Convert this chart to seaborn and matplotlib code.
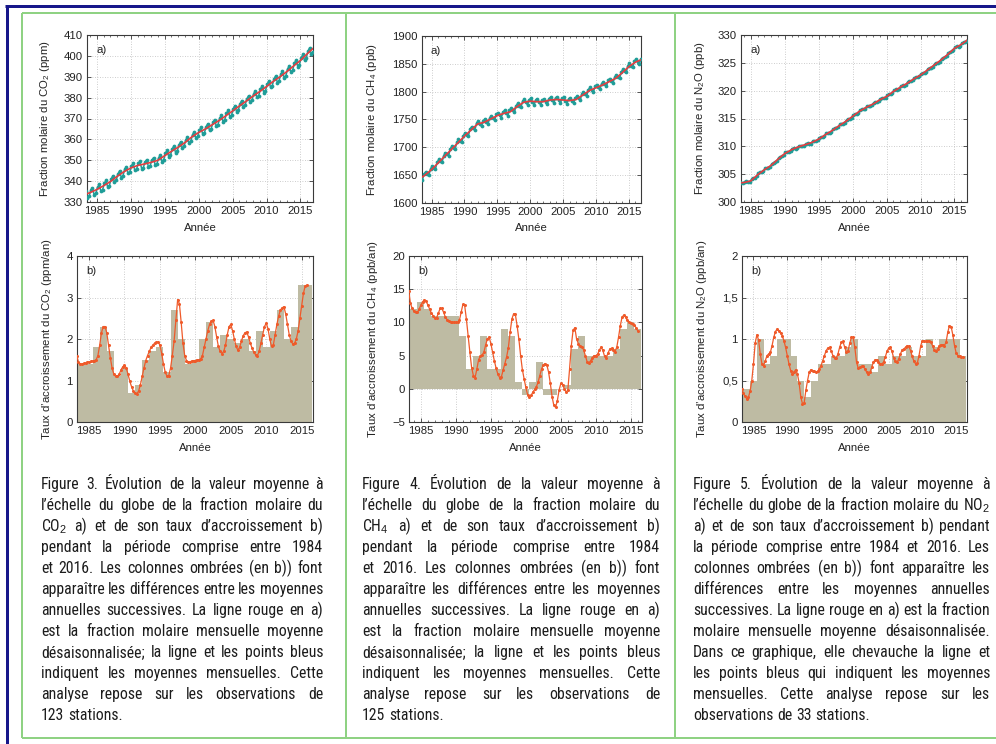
import numpy as np
import matplotlib
matplotlib.use("Agg")
import matplotlib.pyplot as plt
import seaborn as sns
from matplotlib.lines import Line2D
from matplotlib.ticker import MultipleLocator, FuncFormatter
from matplotlib import font_manager

# ------------------------------------------------------------------ data
trend_years = list(range(1983, 2018))
month_years = list(range(1983, 2017))
sample_frac = [0.1, 0.35, 0.6, 0.85]
bar_years = list(range(1984, 2017))
growth_start = 1983.25
growth_step = 0.25

co2_trend = [333.3, 334.5, 336.0, 337.8, 339.8, 342.3, 344.5, 346.3, 347.5, 348.2,
             349.0, 350.0, 352.2, 354.3, 356.3, 358.5, 361.2, 363.3, 365.0, 367.0,
             369.0, 371.3, 373.6, 376.0, 378.3, 380.7, 382.9, 385.3, 387.8, 390.0,
             392.5, 395.2, 397.8, 401.0, 404.0]
co2_monthly = [
    [334.3, 335.5, 332.1, 332.7], [335.55, 336.8, 333.5, 334.2], [337.1, 338.4, 335.2, 335.9],
    [338.9, 340.3, 337.1, 337.9], [340.95, 342.5, 339.4, 340.3], [343.4, 344.9, 341.7, 342.6],
    [345.6, 346.9, 343.7, 344.4], [347.3, 348.5, 345.1, 345.7], [348.5, 349.5, 346.0, 346.5],
    [349.2, 350.3, 346.8, 347.3], [350.0, 351.2, 347.7, 348.25], [351.1, 352.6, 349.4, 350.3],
    [353.3, 354.7, 351.6, 352.4], [355.4, 356.8, 353.6, 354.4], [357.4, 358.9, 355.7, 356.6],
    [359.7, 361.2, 358.2, 359.2], [362.3, 363.7, 360.6, 361.4], [364.4, 365.7, 362.4, 363.1],
    [366.1, 367.5, 364.3, 365.1], [368.1, 369.5, 366.3, 367.1], [370.1, 371.6, 368.5, 369.4],
    [372.4, 373.9, 370.8, 371.7], [374.7, 376.2, 373.1, 374.0], [377.1, 378.6, 375.5, 376.4],
    [379.4, 380.9, 377.8, 378.7], [381.8, 383.3, 380.1, 381.0], [384.0, 385.5, 382.4, 383.3],
    [386.45, 388.0, 384.9, 385.8], [388.9, 390.4, 387.2, 388.1], [391.15, 392.7, 389.6, 390.5],
    [393.7, 395.2, 392.2, 393.2], [396.4, 397.9, 394.9, 395.8], [399.0, 400.7, 397.8, 398.9],
    [402.2, 403.85, 400.9, 401.95]]
co2_growth_bars = [1.4, 1.4, 1.8, 2.3, 1.7, 1.1, 1.3, 0.7, 0.9, 1.5, 1.7, 1.8, 1.2, 2.7,
                   2.0, 1.4, 1.5, 2.0, 2.4, 1.8, 2.1, 2.0, 1.9, 2.0, 1.7, 2.2, 1.8, 2.2,
                   2.7, 2.0, 2.3, 3.3, 3.3]
co2_growth = [1.6, 1.45, 1.4,
              1.4, 1.41, 1.42, 1.44, 1.45, 1.46, 1.47, 1.48, 1.5, 1.6, 1.85, 2.15,
              2.3, 2.3, 2.15, 1.85, 1.55, 1.3, 1.15, 1.1, 1.1, 1.15, 1.25, 1.33,
              1.37, 1.3, 1.15, 0.98, 0.85, 0.75, 0.69, 0.68, 0.75, 0.9, 1.1, 1.3,
              1.48, 1.6, 1.7, 1.8, 1.85, 1.9, 1.92, 1.93, 1.85, 1.65, 1.4, 1.2,
              1.1, 1.12, 1.3, 1.6, 1.95, 2.45, 2.95, 2.85, 2.4, 1.9, 1.6, 1.48,
              1.45, 1.45, 1.47, 1.48, 1.48, 1.5, 1.5, 1.52, 1.6, 1.8, 2.0, 2.2,
              2.35, 2.43, 2.45, 2.3, 2.05, 1.82, 1.7, 1.65, 1.7, 1.85, 2.1, 2.3,
              2.35, 2.2, 2.0, 1.82, 1.73, 1.8, 1.95, 2.08, 2.15, 2.17, 2.05, 1.9,
              1.78, 1.68, 1.62, 1.6, 1.7, 1.9, 2.1, 2.3, 2.38, 2.25, 2.0, 1.82,
              1.85, 2.1, 2.35, 2.55, 2.7, 2.75, 2.78, 2.6, 2.35, 2.1, 1.95, 1.88,
              1.9, 2.0, 2.2, 2.5, 2.8, 3.1, 3.28, 3.3]

ch4_trend = [1642, 1650, 1660, 1672, 1684, 1696, 1708, 1720, 1731, 1742, 1745, 1751,
             1757, 1761, 1764, 1773, 1781, 1783, 1782, 1782, 1785, 1786, 1785, 1784,
             1786, 1794, 1802, 1807, 1812, 1818, 1824, 1834, 1845, 1853, 1858]
ch4_monthly = [
    [1647.8, 1643.8, 1640.8, 1651.8], [1656.0, 1652.5, 1650.0, 1661.5], [1666.2, 1663.2, 1661.2, 1673.2],
    [1678.2, 1675.2, 1673.2, 1685.2], [1690.2, 1687.2, 1685.2, 1697.2], [1702.2, 1699.2, 1697.2, 1709.2],
    [1714.2, 1711.2, 1709.2, 1721.2], [1726.1, 1722.9, 1720.6, 1732.4], [1737.1, 1733.9, 1731.6, 1743.4],
    [1747.3, 1742.1, 1737.8, 1747.6], [1750.6, 1746.1, 1742.6, 1753.1], [1756.6, 1752.1, 1748.6, 1759.1],
    [1762.4, 1757.4, 1753.4, 1763.4], [1766.3, 1761.1, 1756.8, 1766.6], [1769.9, 1766.2, 1763.4, 1774.7],
    [1778.8, 1774.8, 1771.8, 1782.8], [1786.2, 1780.7, 1776.2, 1785.7], [1787.9, 1781.7, 1776.4, 1785.2],
    [1787.0, 1781.0, 1776.0, 1785.0], [1787.3, 1782.1, 1777.8, 1787.6], [1790.1, 1784.4, 1779.6, 1788.9],
    [1790.9, 1784.7, 1779.4, 1788.2], [1789.9, 1783.7, 1778.4, 1787.2], [1789.2, 1783.7, 1779.2, 1788.7],
    [1791.8, 1787.8, 1784.8, 1795.8], [1799.8, 1795.8, 1792.8, 1803.8], [1807.5, 1802.8, 1799.0, 1809.3],
    [1812.5, 1807.8, 1804.0, 1814.3], [1817.6, 1813.1, 1809.6, 1820.1], [1823.6, 1819.1, 1815.6, 1826.1],
    [1830.0, 1826.5, 1824.0, 1835.5], [1840.1, 1836.9, 1834.6, 1846.4], [1850.8, 1846.8, 1843.8, 1854.8],
    [1858.5, 1853.8, 1850.0, 1859.3]]
ch4_growth_bars = [12, 13, 12, 11, 11, 11, 11, 8, 3, 5, 8, 3, 3, 9, 8, 1, -1, 1, 4, -1,
                   -1, 0, 0.5, 6, 8, 5, 5, 5, 5, 6, 9, 10, 9]
ch4_growth = [14.8, 12.9, 12.1,
              11.7, 11.6, 11.5, 12.0, 12.6, 13.1, 13.4, 13.2, 12.6, 12.0, 11.4, 11.0,
              10.7, 10.7, 11.4, 12.1, 12.1, 11.5, 10.8, 10.4, 10.2, 10.0, 10.0, 10.0,
              10.0, 10.0, 10.3, 11.5, 12.7, 12.6, 10.5, 8.0, 5.5, 3.2, 2.0, 1.7,
              3.0, 4.4, 4.9, 5.1, 5.5, 6.6, 7.5, 7.8, 6.8, 5.5, 4.2, 3.1,
              2.2, 1.7, 1.8, 2.8, 3.8, 4.8, 6.2, 8.5, 10.5, 11.3, 11.2, 9.5,
              7.5, 5.0, 2.9, 1.5, 0.2, -0.9, -1.2, -1.0, -0.5, -0.1, 0.3, 1.0,
              2.0, 3.0, 3.6, 3.8, 3.6, 2.5, 0.8, -1.2, -2.5, -2.8, -1.8, -0.2,
              0.8, 0.6, 0.0, -0.5, -0.2, 3.0, 6.5, 8.8, 9.2, 7.5, 6.8, 6.5,
              6.3, 5.9, 5.0, 4.1, 3.9, 4.2, 4.7, 5.0, 5.0, 5.2, 5.8, 6.3,
              5.8, 4.9, 4.7, 5.4, 6.0, 6.1, 5.8, 5.6, 6.3, 7.8, 9.5, 10.8,
              11.1, 10.8, 10.3, 10.0, 9.9, 9.8, 9.6, 9.2, 8.7]

n2o_trend = [303.4, 303.5, 303.8, 304.9, 305.8, 306.6, 307.7, 308.7, 309.4, 309.9,
             310.3, 310.7, 311.3, 312.1, 312.85, 313.7, 314.5, 315.4, 316.3, 317.0,
             317.6, 318.35, 318.95, 319.85, 320.6, 321.3, 322.1, 322.8, 323.7, 324.6,
             325.5, 326.5, 327.6, 328.3, 329.2]
n2o_monthly = [
    [303.56, 303.54, 303.36, 303.34], [303.68, 303.7, 303.58, 303.6], [304.06, 304.29, 304.36, 304.59],
    [305.14, 305.32, 305.34, 305.52], [306.03, 306.18, 306.18, 306.33], [306.86, 307.09, 307.16, 307.39],
    [307.95, 308.15, 308.2, 308.4], [308.92, 309.05, 309.02, 309.15], [309.6, 309.68, 309.6, 309.68],
    [310.09, 310.14, 310.04, 310.09], [310.49, 310.54, 310.44, 310.49], [310.91, 311.01, 310.96, 311.06],
    [311.53, 311.68, 311.68, 311.83], [312.33, 312.46, 312.45, 312.59], [313.09, 313.25, 313.26, 313.42],
    [313.93, 314.08, 314.08, 314.23], [314.74, 314.92, 314.94, 315.12], [315.64, 315.82, 315.84, 316.02],
    [316.52, 316.65, 316.62, 316.75], [317.21, 317.31, 317.26, 317.36], [317.83, 317.96, 317.95, 318.09],
    [318.56, 318.66, 318.61, 318.71], [319.19, 319.37, 319.39, 319.57], [320.08, 320.21, 320.2, 320.34],
    [320.82, 320.95, 320.92, 321.05], [321.53, 321.68, 321.68, 321.83], [322.32, 322.45, 322.42, 322.55],
    [323.04, 323.22, 323.24, 323.42], [323.94, 324.12, 324.14, 324.32], [324.84, 325.02, 325.04, 325.22],
    [325.75, 325.95, 326.0, 326.2], [326.76, 326.99, 327.06, 327.29], [327.82, 327.95, 327.92, 328.05],
    [328.54, 328.72, 328.74, 328.92]]
n2o_growth_bars = [0.4, 0.5, 1.0, 0.7, 0.8, 1.0, 1.0, 0.8, 0.5, 0.3, 0.5, 0.7, 0.7, 0.8,
                   0.8, 0.9, 1.0, 0.7, 0.7, 0.6, 0.8, 0.7, 0.8, 0.8, 0.9, 0.8, 0.8, 1.0,
                   0.9, 1.0, 1.0, 1.0, 0.8]
n2o_growth = [0.4, 0.35, 0.31,
              0.28, 0.3, 0.37, 0.5, 0.7, 0.95, 1.05, 0.99, 0.82, 0.7, 0.68, 0.74,
              0.8, 0.82, 0.84, 0.92, 1.02, 1.09, 1.12, 1.1, 1.07, 1.04, 0.98, 0.9,
              0.8, 0.7, 0.62, 0.58, 0.6, 0.63, 0.58, 0.47, 0.3, 0.22, 0.23, 0.38,
              0.5, 0.6, 0.63, 0.62, 0.61, 0.6, 0.61, 0.64, 0.68, 0.74, 0.8, 0.86,
              0.89, 0.9, 0.86, 0.8, 0.77, 0.77, 0.82, 0.9, 0.96, 0.97, 0.9, 0.84,
              0.86, 0.95, 1.02, 1.02, 0.9, 0.72, 0.65, 0.66, 0.67, 0.67, 0.64, 0.6,
              0.58, 0.6, 0.66, 0.72, 0.75, 0.75, 0.72, 0.7, 0.7, 0.72, 0.78, 0.85,
              0.89, 0.9, 0.85, 0.77, 0.73, 0.72, 0.76, 0.82, 0.87, 0.88, 0.9, 0.92,
              0.91, 0.86, 0.79, 0.73, 0.7, 0.71, 0.8, 0.92, 0.98, 0.98, 0.97, 0.98,
              0.98, 0.96, 0.92, 0.87, 0.85, 0.88, 0.92, 0.93, 0.93, 0.92, 0.96, 1.08,
              1.16, 1.15, 1.05, 0.92, 0.83, 0.8, 0.79, 0.78, 0.78]

year_ticks = [1985, 1990, 1995, 2000, 2005, 2010, 2015]

captions = [
    ["Figure 3. Évolution de la valeur moyenne à",
     "l’échelle du globe de la fraction molaire du",
     "CO$_2$ a) et de son taux d’accroissement b)",
     "pendant la période comprise entre 1984",
     "et 2016. Les colonnes ombrées (en b)) font",
     "apparaître les différences entre les moyennes",
     "annuelles successives. La ligne rouge en a)",
     "est la fraction molaire mensuelle moyenne",
     "désaisonnalisée; la ligne et les points bleus",
     "indiquent les moyennes mensuelles. Cette",
     "analyse repose sur les observations de",
     "123 stations."],
    ["Figure 4. Évolution de la valeur moyenne à",
     "l’échelle du globe de la fraction molaire du",
     "CH$_4$ a) et de son taux d’accroissement b)",
     "pendant la période comprise entre 1984",
     "et 2016. Les colonnes ombrées (en b)) font",
     "apparaître les différences entre les moyennes",
     "annuelles successives. La ligne rouge en a)",
     "est la fraction molaire mensuelle moyenne",
     "désaisonnalisée; la ligne et les points bleus",
     "indiquent les moyennes mensuelles. Cette",
     "analyse repose sur les observations de",
     "125 stations."],
    ["Figure 5. Évolution de la valeur moyenne à",
     "l’échelle du globe de la fraction molaire du NO$_2$",
     "a) et de son taux d’accroissement b) pendant",
     "la période comprise entre 1984 et 2016. Les",
     "colonnes ombrées (en b)) font apparaître les",
     "différences entre les moyennes annuelles",
     "successives. La ligne rouge en a) est la fraction",
     "molaire mensuelle moyenne désaisonnalisée.",
     "Dans ce graphique, elle chevauche la ligne et",
     "les points bleus qui indiquent les moyennes",
     "mensuelles. Cette analyse repose sur les",
     "observations de 33 stations."],
]

# ------------------------------------------------------------------ style
sns.set_theme(style="ticks")
plt.rcParams['font.family'] = ['Liberation Sans', 'DejaVu Sans']
plt.rcParams['mathtext.fontset'] = 'custom'
plt.rcParams['mathtext.rm'] = 'Liberation Sans'
plt.rcParams['mathtext.it'] = 'Liberation Sans:italic'
plt.rcParams['mathtext.bf'] = 'Liberation Sans:bold'

W, H = 996, 744
fig = plt.figure(figsize=(W / 100, H / 100), dpi=100)
fig.patch.set_facecolor('white')

TEAL = '#1f9d98'
RED = '#e63c3f'
ORANGE = '#ef5a2a'
BAR = '#bebba3'
GREEN = '#8fd283'
NAVY = '#17178a'
TXT = '#1c1c1c'


def add_ax(l, t, r, b):
    return fig.add_axes([l / W, 1 - b / H, (r - l) / W, (b - t) / H])


def style(ax, rect, xlim, ylim, yticks, ylabel, letter, label_x_px, xlabel_y_px, fmt=None):
    l, t, r, b = rect
    ax.set_xlim(*xlim)
    ax.set_ylim(*ylim)
    ax.set_xticks(year_ticks)
    ax.xaxis.set_minor_locator(MultipleLocator(1))
    ax.set_yticks(yticks)
    if fmt is not None:
        ax.yaxis.set_major_formatter(FuncFormatter(fmt))
    ax.set_facecolor('white')
    ax.grid(True, which='major', linestyle=(0, (1, 2)), linewidth=0.6, color='#bcbcbc')
    ax.set_axisbelow(True)
    for s in ax.spines.values():
        s.set_visible(True)
        s.set_linewidth(0.8)
        s.set_color('#3a3a3a')
    ax.tick_params(which='major', direction='in', length=3, width=0.6, top=True, right=True,
                   color='#3a3a3a', labelcolor='#222222', labelsize=8.2, pad=3)
    ax.tick_params(which='minor', direction='in', length=1.6, width=0.5, top=True, right=False,
                   color='#3a3a3a')
    ax.tick_params(axis='y', which='minor', left=False, right=False)
    ax.set_ylabel(ylabel, fontsize=8.2, color='#222222', va='center')
    ax.yaxis.set_label_coords((label_x_px - l) / (r - l), 0.5)
    ax.set_xlabel('Année', fontsize=8.2, color='#222222', va='center')
    ax.xaxis.set_label_coords(0.5, (b - xlabel_y_px) / (b - t))
    ax.text(0.04, 0.91, letter, transform=ax.transAxes, fontsize=8.2, va='center', ha='left',
            color='#222222')


def monthly_xy(rows):
    xs, ys = [], []
    for yr, row in zip(month_years, rows):
        for f, v in zip(sample_frac, row):
            xs.append(yr + f)
            ys.append(v)
    return np.array(xs), np.array(ys)


def growth_x(vals):
    return growth_start + growth_step * np.arange(len(vals))


def panel_a(rect, trend, monthly, ylim, yticks, ylabel, label_x, fmt=None):
    ax = add_ax(*rect)
    mx, my = monthly_xy(monthly)
    sns.lineplot(x=mx, y=my, ax=ax, color=TEAL, linewidth=1.1, marker='o', markersize=2.7,
                 markeredgewidth=0, estimator=None, sort=False, zorder=3)
    sns.lineplot(x=np.array(trend_years, dtype=float), y=np.array(trend), ax=ax, color=RED,
                 linewidth=1.2, estimator=None, sort=False, zorder=4)
    style(ax, rect, (1983.55, 2016.85), ylim, yticks, ylabel, 'a)', label_x, 228, fmt)
    return ax


def panel_b(rect, bars, growth, ylim, yticks, ylabel, label_x, fmt=None):
    ax = add_ax(*rect)
    ax.bar(bar_years, bars, width=1.0, color=BAR, edgecolor='none', zorder=1)
    sns.lineplot(x=growth_x(growth), y=np.array(growth), ax=ax, color=ORANGE, linewidth=0.9,
                 marker='o', markersize=2.2, markeredgewidth=0, estimator=None, sort=False,
                 zorder=3)
    style(ax, rect, (1983.3, 2016.6), ylim, yticks, ylabel, 'b)', label_x, 448, fmt)
    return ax


comma = lambda v, p: ('%g' % v).replace('.', ',')

panel_a((87, 35, 313, 202), co2_trend, co2_monthly, (330, 410), list(range(330, 411, 10)),
        'Fraction molaire du CO$_2$ (ppm)', 45)
panel_b((77, 256, 313, 422), co2_growth_bars, co2_growth, (0, 4), [0, 1, 2, 3, 4],
        'Taux d’accroissement du CO$_2$ (ppm/an)', 47)
panel_a((422, 36, 641, 203), ch4_trend, ch4_monthly, (1600, 1900), list(range(1600, 1901, 50)),
        'Fraction molaire du CH$_4$ (ppb)', 372)
panel_b((409, 256, 642, 422), ch4_growth_bars, ch4_growth, (-5, 20), [-5, 0, 5, 10, 15, 20],
        'Taux d’accroissement du CH$_4$ (ppb/an)', 373)
panel_a((741, 35, 967, 202), n2o_trend, n2o_monthly, (300, 330), list(range(300, 331, 5)),
        'Fraction molaire du N$_2$O (ppb)', 700)
panel_b((742, 256, 967, 422), n2o_growth_bars, n2o_growth, (0, 2), [0, 0.5, 1, 1.5, 2],
        'Taux d’accroissement du N$_2$O (ppb/an)', 702, comma)

# ------------------------------------------------------------------ frames


def seg(x0, y0, x1, y1, color, lw_px):
    fig.add_artist(Line2D([x0 / W, x1 / W], [1 - y0 / H, 1 - y1 / H], transform=fig.transFigure,
                          color=color, linewidth=lw_px * 0.72, solid_capstyle='butt'))


seg(5, 5.5, 996, 5.5, NAVY, 3)
seg(6.5, 5, 6.5, 744, NAVY, 3)
seg(22, 13, 996, 13, GREEN, 2)
seg(22, 738, 996, 738, GREEN, 2)
for gx in (22, 346, 675):
    seg(gx, 13, gx, 738, GREEN, 2)

# ------------------------------------------------------------------ captions
installed = {f.name for f in font_manager.fontManager.ttflist}
cap_name = next((n for n in ['Liberation Sans Narrow', 'Roboto Condensed', 'Roboto']
                 if n in installed), 'Liberation Sans')
CAP_FONT = [cap_name, 'DejaVu Sans']
renderer = fig.canvas.get_renderer()
col_x = [(41, 323), (362, 660), (693, 990)]
base_y = 489
pitch = 21


def measure(s, fs):
    t = fig.text(0, 0, s, fontsize=fs, family=CAP_FONT)
    w = t.get_window_extent(renderer).width
    t.remove()
    return w


fs = 10.0
sp = measure('a a', fs) - measure('aa', fs)
worst = 0.0
for (x0, x1), lines in zip(col_x, captions):
    for ln in lines[:-1]:
        nat = sum(measure(w, fs) for w in ln.split(' ')) + sp * 0.9 * (len(ln.split(' ')) - 1)
        worst = max(worst, nat / (x1 - x0))
fs = min(fs / worst, 11.3)
sp = measure('a a', fs) - measure('aa', fs)

for (x0, x1), lines in zip(col_x, captions):
    for i, ln in enumerate(lines):
        words = ln.split(' ')
        y = 1 - (base_y + i * pitch) / H
        texts = [fig.text(0, y, w, fontsize=fs, family=CAP_FONT, color=TXT, va='baseline',
                          ha='left') for w in words]
        widths = [t.get_window_extent(renderer).width for t in texts]
        if i == len(lines) - 1 or len(words) == 1:
            gap = sp
        else:
            gap = (x1 - x0 - sum(widths)) / (len(words) - 1)
        x = x0
        for t, w in zip(texts, widths):
            t.set_x(x / W)
            x += w + gap

fig.savefig('out.png', dpi=100, facecolor='white')
